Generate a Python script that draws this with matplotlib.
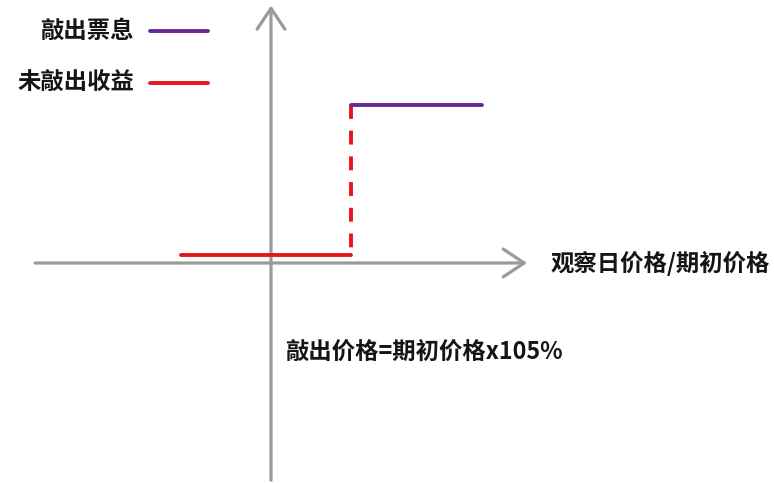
import matplotlib
matplotlib.use("Agg")
import matplotlib.pyplot as plt

plt.rcParams['font.family'] = ['Noto Sans CJK SC', 'DejaVu Sans']
plt.rcParams['lines.scale_dashes'] = False

# Data (abstract units: x = observation price relative to barrier, y = payoff)
barrier_x = 1.0
red_x = [-1.125, 1.0]          # 未敲出收益
red_y = [0.05, 0.05]
purple_x = [1.0, 2.64]         # 敲出票息
purple_y = [1.0, 1.0]
jump_y = [0.05, 1.0]

legend_labels = ["敲出票息", "未敲出收益"]
xlabel = "观察日价格/期初价格"
note = "敲出价格=期初价格x105%"

PURPLE = "#6a2a92"
RED = "#e8141b"
GRAY = "#9a9a9a"
TXT = "#151515"

W, H = 774, 483
fig = plt.figure(figsize=(W / 100, H / 100), dpi=100)
ax = fig.add_axes([0, 0, 1, 1])
# pixel mapping: x_px = 271 + 80*x ; y_px = 263 - 158*y
ax.set_xlim(-271 / 80, 503 / 80)
ax.set_ylim(-220 / 158, 263 / 158)
ax.axis('off')

def fx(px):
    return px / W

def fy(py):
    return 1 - py / H

# axes with arrows
arrow_kw = dict(arrowstyle='->,head_length=1.5,head_width=1.0', color=GRAY,
                lw=2.3, mutation_scale=10, shrinkA=0, shrinkB=0)
ax.annotate('', xy=(3.2, 0), xytext=(-2.95, 0), arrowprops=arrow_kw)
ax.annotate('', xy=(0, 1.63), xytext=(0, -1.375), arrowprops=arrow_kw)

# payoff lines
ax.plot(red_x, red_y, color=RED, lw=2.8, solid_capstyle='round', zorder=3)
ax.plot([barrier_x, barrier_x], jump_y[::-1], color=RED, lw=2.8,
        dashes=(10, 8.5), dash_capstyle='butt', zorder=3)
ax.plot(purple_x, purple_y, color=PURPLE, lw=2.8, solid_capstyle='round', zorder=4)

fs = 16.8
# legend (manual)
for lbl, col, ypx in [(legend_labels[0], PURPLE, 31), (legend_labels[1], RED, 83)]:
    ax.text(fx(134), fy(ypx), lbl, transform=ax.transAxes, fontsize=fs,
            fontweight='bold', ha='right', va='center', color=TXT)
    ax.plot([fx(150), fx(208)], [fy(ypx), fy(ypx)], transform=ax.transAxes,
            color=col, lw=2.8, solid_capstyle='round')

ax.text(fx(551), fy(263), xlabel, transform=ax.transAxes, fontsize=fs,
        fontweight='bold', ha='left', va='center', color=TXT)
ax.text(fx(285), fy(352), note, transform=ax.transAxes, fontsize=fs,
        fontweight='bold', ha='left', va='center', color=TXT)

fig.savefig('out.png', dpi=100)
